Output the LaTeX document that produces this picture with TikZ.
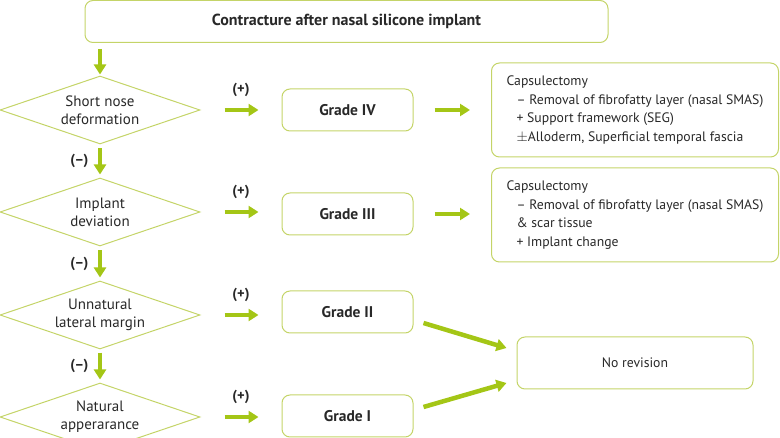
\documentclass[tikz,border=0pt]{standalone}
\usepackage{fontspec}
\setmainfont{PT Sans}
\usepackage{xcolor}
\usetikzlibrary{arrows.meta, shapes.geometric}

\definecolor{boxline}{RGB}{196,212,104}
\definecolor{arrowgreen}{RGB}{164,198,22}
\definecolor{txt}{RGB}{40,40,40}

\begin{document}
\begin{tikzpicture}[
  x=1pt, y=-1pt,
  font=\fontsize{13.7}{18.7}\selectfont, text=txt,
  decision/.style={diamond, draw=boxline, line width=1pt, inner sep=0pt, aspect=2.9,
    minimum width=200pt, minimum height=68pt, align=center,
    font=\fontsize{15}{18}\selectfont},
  grade/.style={draw=boxline, line width=1pt, rounded corners=8pt,
    minimum width=131pt, minimum height=42pt, font=\fontsize{15.5}{18}\selectfont\bfseries},
  action/.style={draw=boxline, line width=1pt, rounded corners=8pt,
    minimum height=94pt, minimum width=287pt, align=left},
  arrow/.style={-{Triangle[length=10pt, width=12pt]}, line width=4.5pt, arrowgreen},
  sign/.style={text=txt, font=\fontsize{14.5}{16}\selectfont\bfseries},
]
\clip (0,0) rectangle (780,438);

% ============ top ============
\node[draw=boxline, line width=1pt, rounded corners=8pt, minimum width=523pt,
  minimum height=42pt, font=\fontsize{16}{18}\selectfont\bfseries] (top) at (346.5,21.5)
  {Contracture after nasal silicone implant};

% ============ decisions ============
\node[decision] (short)   at (100,110) {Short nose\\deformation};
\node[decision] (dev)     at (100,212) {Implant\\deviation};
\node[decision] (lateral) at (100,315) {Unnatural\\lateral margin};
\node[decision] (natural) at (100,417) {Natural\\apperarance};

\draw[arrow, shorten <=6pt, shorten >=1pt] (top.south -| short.north) -- (short.north);
\draw[arrow, shorten <=4pt, shorten >=3pt] (short) -- node[sign, left=6pt] {(--)} (dev);
\draw[arrow, shorten <=4pt, shorten >=3pt] (dev) -- node[sign, left=6pt] {(--)} (lateral);
\draw[arrow, shorten <=3pt, shorten >=3pt] (lateral) -- node[sign, left=6pt] {(--)} (natural);

% ============ grades ============
\node[grade] (g4) at (347.5,110) {Grade IV};
\node[grade] (g3) at (347.5,214) {Grade III};
\node[grade] (g2) at (347.5,312) {Grade II};
\node[grade] (g1) at (347.5,416) {Grade I};

\draw[arrow, shorten <=24pt, shorten >=23pt] (short.east) -- node[sign, above=8pt] {(+)} (short.east -| g4.west);
\draw[arrow, shorten <=24pt, shorten >=23pt] (dev.east) -- node[sign, above=8pt] {(+)} (dev.east -| g3.west);
\draw[arrow, shorten <=24pt, shorten >=23pt] (lateral.east) -- node[sign, above=8pt] {(+)} (lateral.east -| g2.west);
\draw[arrow, shorten <=24pt, shorten >=23pt] (natural.east) -- node[sign, above=8pt] {(+)} (natural.east -| g1.west);

% ============ treatment ============
\node[action] (cap4) at (635,110)
  {Capsulectomy\\
   \hspace*{10pt}-- Removal of fibrofatty layer (nasal SMAS)\\
   \hspace*{10pt}+ Support framework (SEG)\\
   \hspace*{10pt}$\pm$Alloderm, Superficial temporal fascia};
\node[action] (cap3) at (635,215)
  {Capsulectomy\\
   \hspace*{10pt}-- Removal of fibrofatty layer (nasal SMAS)\\
   \hspace*{10pt}\& scar tissue\\
   \hspace*{10pt}+ Implant change};
\node[draw=boxline, line width=1pt, rounded corners=8pt, minimum width=236pt,
  minimum height=52pt] (norev) at (635,363) {No revision};

\draw[arrow, shorten <=21pt, shorten >=21pt] (g4.east) -- (g4.east -| cap4.west);
\draw[arrow, shorten <=21pt, shorten >=21pt] (g3.east) -- (g3.east -| cap3.west);
\draw[arrow] ([shift={(10,11)}]g2.east) -- ([shift={(-10,-15)}]norev.west);
\draw[arrow] ([shift={(10,-9)}]g1.east) -- ([shift={(-10,20)}]norev.west);

\end{tikzpicture}
\end{document}
